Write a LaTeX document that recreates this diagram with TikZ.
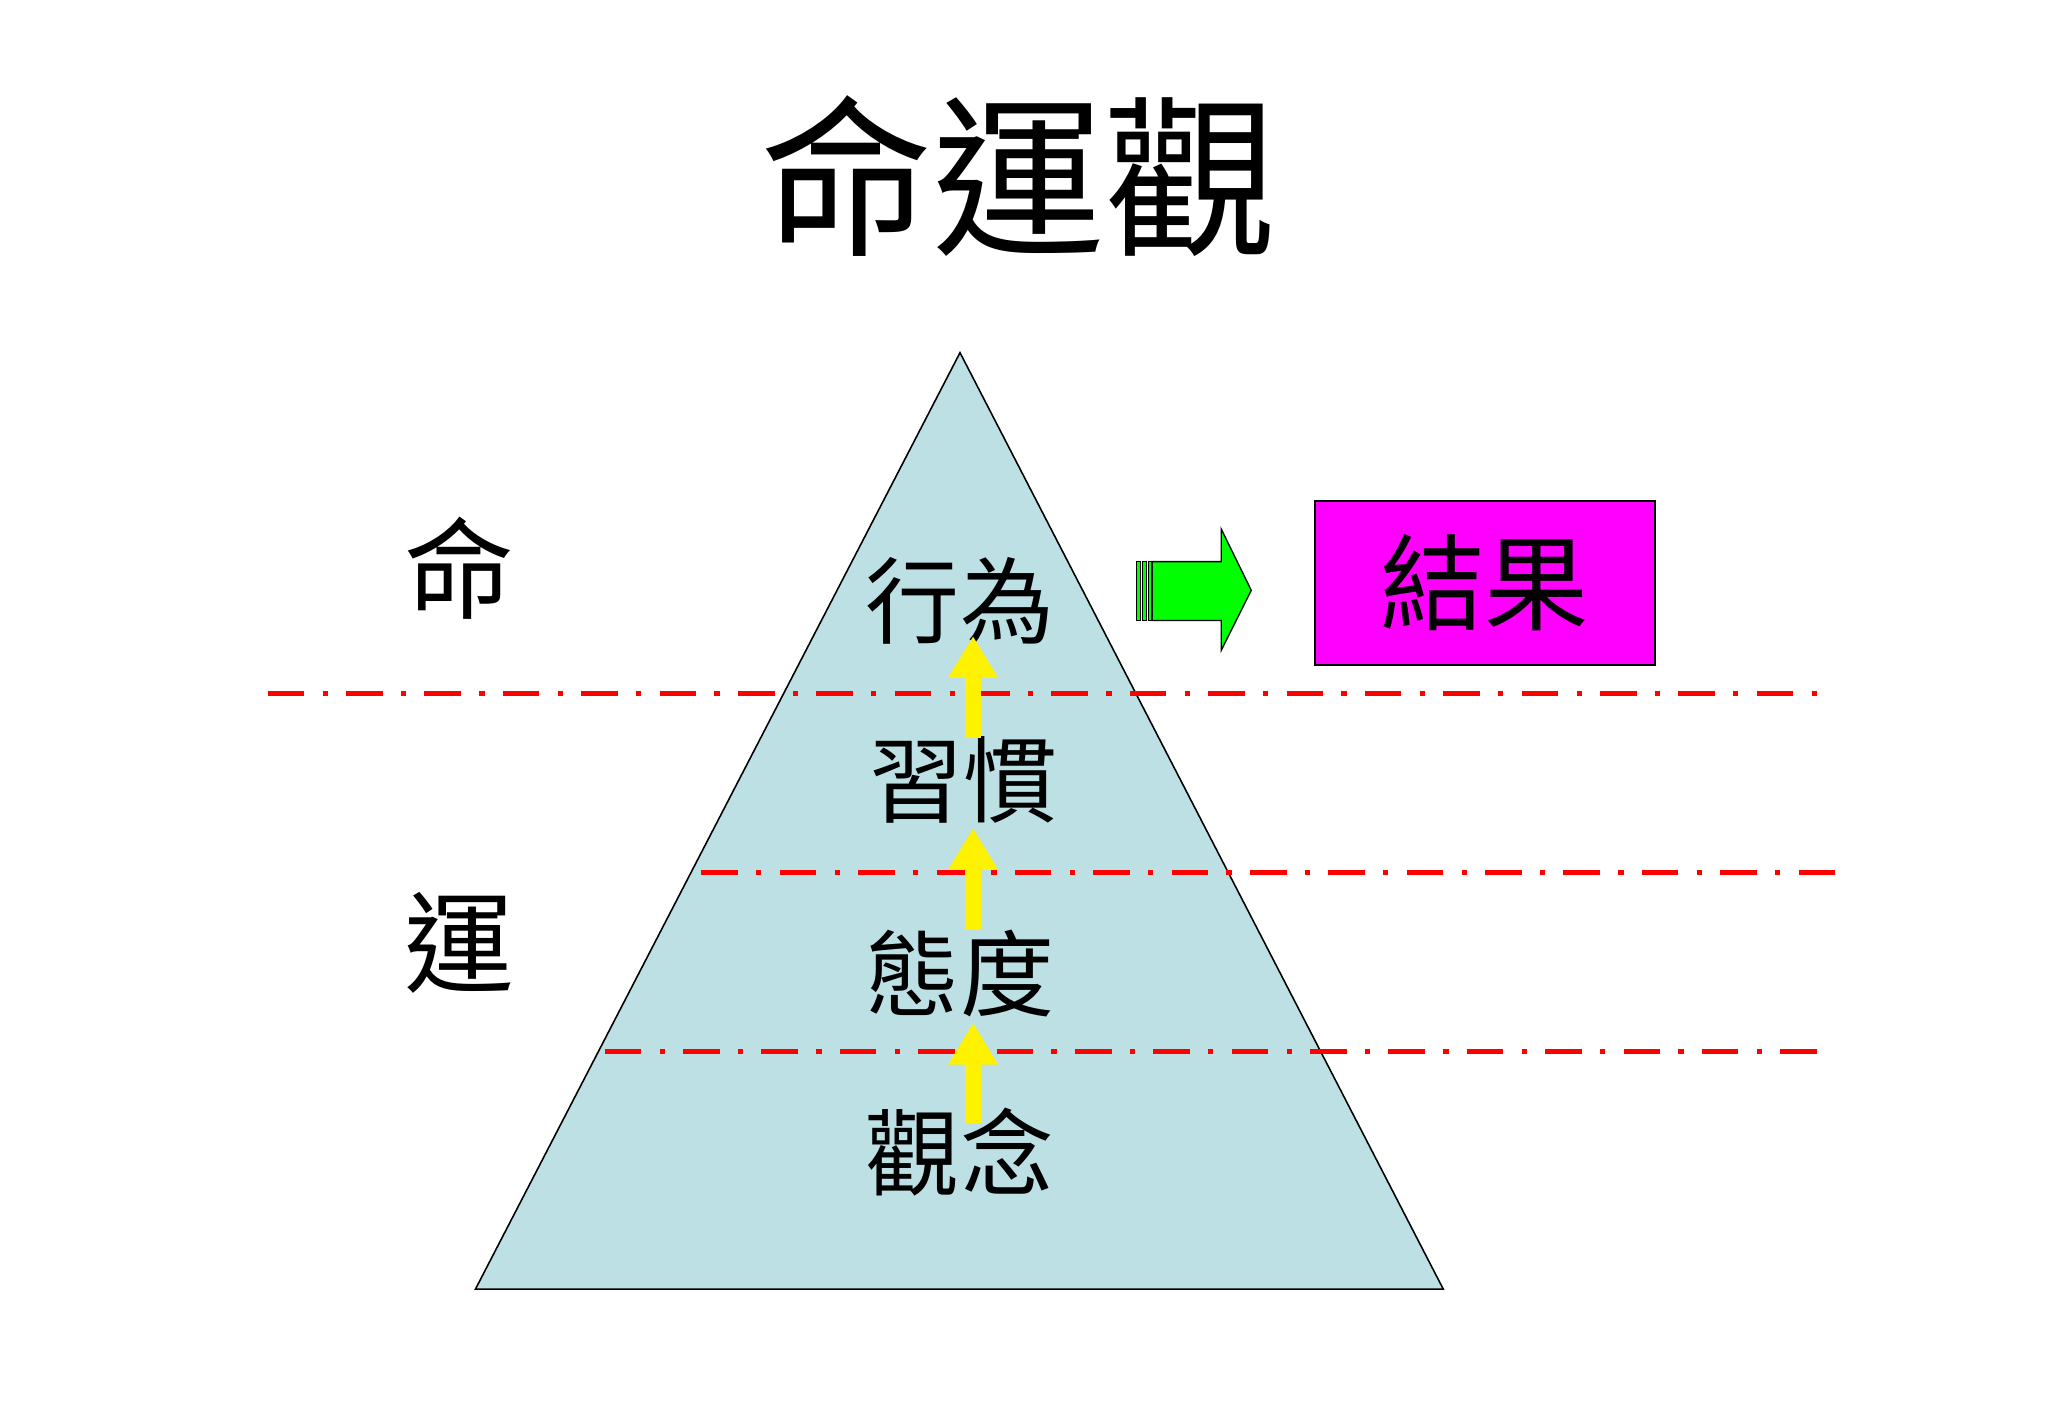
\documentclass[tikz,border=0pt]{standalone}
\usepackage{fontspec}
\usetikzlibrary{arrows.meta}
\newfontfamily\cjk{Noto Sans CJK TC}
\begin{document}
\begin{tikzpicture}[x=0.5pt,y=-0.5pt,
  lvl/.style={font=\cjk\fontsize{36}{40}\selectfont},
  side/.style={font=\cjk\fontsize{42}{46}\selectfont},
  redline/.style={red,line width=2pt,dash pattern=on 14pt off 7pt on 2pt off 7pt},
  yarrow/.style={yellow,line width=6pt,-{Triangle[width=18pt,length=16pt]}}]
\useasboundingbox[fill=white] (0,0) rectangle (1568,1086);
\node[font=\cjk\fontsize{66}{70}\selectfont] (title) at (780,135) {命運觀};
\draw[fill={rgb,255:red,188;green,224;blue,227},line width=0.6pt] (735,270) -- (1105,987) -- (364,987) -- cycle;
\draw[redline] (205,531) -- (1400,531);
\draw[redline] (537,668) -- (1405,668);
\draw[redline] (463,805) -- (1397,805);
\node[lvl] (a) at (735,460) {行為};
\node[lvl] (b) at (738,597) {習慣};
\node[lvl] (c) at (735,745) {態度};
\node[lvl] (d) at (735,882) {觀念};
\node[side] (ming) at (352,435) {命};
\node[side] (yun) at (352,722) {運};
\coordinate (y1s) at (745,565); \coordinate (y1e) at (745,487);
\coordinate (y2s) at (745,712); \coordinate (y2e) at (745,634);
\coordinate (y3s) at (745,860); \coordinate (y3e) at (745,783);
\draw[yarrow] (y1s) -- (y1e);
\draw[yarrow] (y2s) -- (y2e);
\draw[yarrow] (y3s) -- (y3e);
\draw[fill={rgb,255:red,0;green,255;blue,0},line width=0.5pt] (882,430) -- (935,430) -- (935,405) -- (958,452) -- (935,498) -- (935,475) -- (882,475) -- cycle;
\foreach \x in {870,875,879}{\draw[fill={rgb,255:red,0;green,255;blue,0},line width=0.4pt] (\x,430) rectangle ++(3,45);}
\node[draw,line width=0.8pt,fill={rgb,255:red,255;green,0;blue,255},minimum width=130pt,minimum height=62.5pt,anchor=north west,font=\cjk\fontsize{40}{44}\selectfont] (res) at (1006,383) {結果};
\end{tikzpicture}
\end{document}
